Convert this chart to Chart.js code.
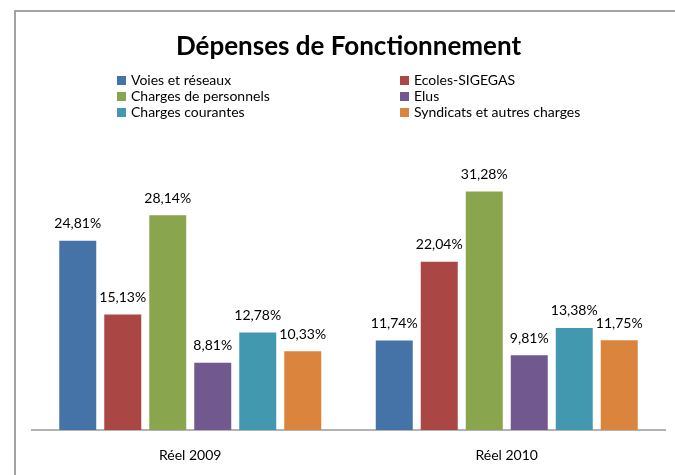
<!DOCTYPE html>
<html>
<head>
<meta charset="utf-8">
<script src="https://cdn.jsdelivr.net/npm/chart.js@4/dist/chart.umd.min.js"></script>
<style>
  body { margin: 0; background: #fff; }
  #wrap { position: relative; width: 675px; height: 475px; overflow: hidden; font-family: Lato, "Noto Sans", sans-serif; }
  #frame { position: absolute; left: 14px; top: 10px; width: 720px; height: 520px; border-left: 2px solid #a3a3a3; border-top: 2px solid #a3a3a3; }
  #chart { position: absolute; left: 0; top: 0; }
  #legend { position: absolute; left: 117px; top: 72px; display: grid; grid-template-columns: 283px auto; font-size: 14px; line-height: 16px; color: #000; }
  .item { display: flex; align-items: center; white-space: nowrap; }
  .box { width: 9px; height: 9px; margin-right: 5px; }
</style>
</head>
<body>
<div id="wrap">
  <div id="frame"></div>
  <canvas id="chart" width="675" height="475"></canvas>
  <div id="legend"></div>
</div>
<script>
const categories = ['Réel 2009', 'Réel 2010'];
const seriesNames = ['Voies et réseaux', 'Ecoles-SIGEGAS', 'Charges de personnels', 'Elus', 'Charges courantes', 'Syndicats et autres charges'];
const seriesColors = ['#4572A7', '#AA4643', '#89A54E', '#71588F', '#4198AF', '#DB843D'];
const voiesReseaux = [24.81, 11.74];
const ecolesSigegas = [15.13, 22.04];
const chargesPersonnels = [28.14, 31.28];
const elus = [8.81, 9.81];
const chargesCourantes = [12.78, 13.38];
const syndicats = [10.33, 11.75];
const seriesValues = [voiesReseaux, ecolesSigegas, chargesPersonnels, elus, chargesCourantes, syndicats];

const FONT = 'Lato, "Noto Sans", sans-serif';

function formatPct(v) {
  return v.toFixed(2).replace('.', ',') + '%';
}

// labels au-dessus des barres
const valueLabels = {
  id: 'valueLabels',
  afterDatasetsDraw(chart) {
    const ctx = chart.ctx;
    ctx.save();
    ctx.font = `14px ${FONT}`;
    ctx.fillStyle = '#000';
    ctx.textAlign = 'center';
    ctx.textBaseline = 'middle';
    chart.data.datasets.forEach((ds, i) => {
      chart.getDatasetMeta(i).data.forEach((bar, j) => {
        ctx.fillText(formatPct(ds.data[j]), bar.x, bar.y - 17);
      });
    });
    ctx.restore();
  }
};

function renderLegend() {
  const legend = document.getElementById('legend');
  legend.innerHTML = seriesNames.map((name, i) => `
    <div class="item"><span class="box" style="background:${seriesColors[i]}"></span><span>${name}</span></div>
  `).join('');
}

new Chart(document.getElementById('chart'), {
  type: 'bar',
  data: {
    labels: categories,
    datasets: seriesNames.map((name, i) => ({
      label: name,
      data: seriesValues[i],
      backgroundColor: seriesColors[i],
      categoryPercentage: 0.853,
      barPercentage: 0.822
    }))
  },
  options: {
    responsive: false,
    animation: false,
    layout: { padding: { left: 32, right: 10, top: 0, bottom: 0 } },
    plugins: {
      legend: { display: false },
      tooltip: { enabled: false },
      title: {
        display: true,
        text: 'Dépenses de Fonctionnement',
        color: '#000',
        font: { family: FONT, size: 26, weight: 'bold', lineHeight: 1.2 },
        padding: { top: 31, bottom: 100.8 }
      }
    },
    scales: {
      x: {
        grid: { display: false, drawTicks: false },
        border: { display: true, color: '#b3b3b3', width: 2 },
        ticks: { color: '#000', padding: 17, font: { family: FONT, size: 14 } },
        afterFit: (scale) => { scale.height = 45; }
      },
      y: { display: false, min: 0, max: 35 }
    }
  },
  plugins: [valueLabels]
});

renderLegend();
</script>
</body>
</html>
